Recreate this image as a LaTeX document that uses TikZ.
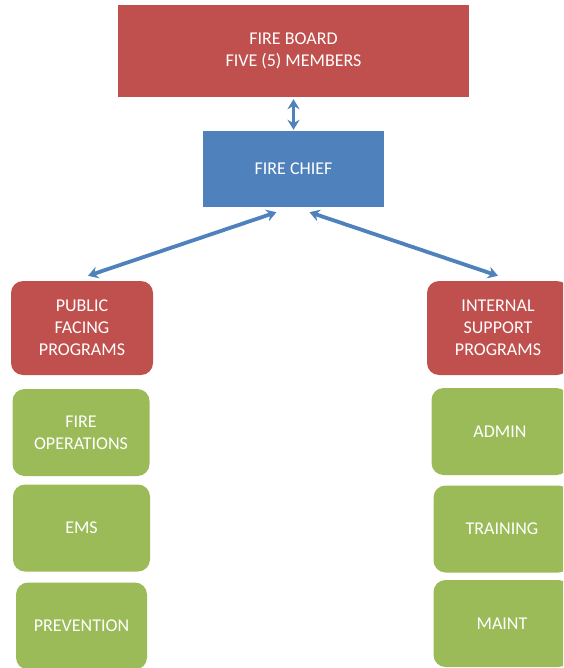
\documentclass[tikz,border=0pt]{standalone}
\usepackage{fontspec}
\setmainfont{Carlito}
\usepackage{xcolor}
\usetikzlibrary{shapes,arrows.meta,positioning,calc}

\definecolor{boardred}{HTML}{C0504D}
\definecolor{chiefblue}{HTML}{4F81BD}
\definecolor{progreen}{HTML}{9BBB59}

\begin{document}
\begin{tikzpicture}[x=1pt, y=-1pt,
    box/.style={rectangle, text=white, inner sep=0pt, align=center,
      font=\fontsize{18}{22}\selectfont},
    redbox/.style={box, fill=boardred, rounded corners=12pt, minimum width=142pt, minimum height=94pt},
    greenbox/.style={box, fill=progreen, rounded corners=12pt, minimum width=137pt, minimum height=87pt},
    arrow/.style={{Stealth[length=10pt,width=12pt]}-{Stealth[length=10pt,width=12pt]}, line width=3.8pt, draw=chiefblue}]

    \useasboundingbox (0,0) rectangle (563,668);
    \clip (0,0) rectangle (563,668);

    \node[box, fill=boardred, minimum width=351pt, minimum height=92pt] (board) at (293.5,51) {FIRE BOARD\\FIVE (5) MEMBERS};
    \node[box, fill=chiefblue, minimum width=181pt, minimum height=76pt] (chief) at (293.5,169) {FIRE CHIEF};

    \node[redbox] (public) at (82,328) {PUBLIC\\FACING\\PROGRAMS};
    \node[redbox] (internal) at (498,328) {INTERNAL\\SUPPORT\\PROGRAMS};

    \node[greenbox] (fireops) at (81,432.5) {FIRE\\OPERATIONS};
    \node[greenbox] (ems) at (81.5,528) {EMS};
    \node[greenbox, minimum width=131pt] (prev) at (81.5,626) {PREVENTION};

    \node[greenbox] (admin) at (500,431.5) {ADMIN};
    \node[greenbox] (training) at (502,529) {TRAINING};
    \node[greenbox] (maint) at (502,623.5) {MAINT};

    \draw[arrow] ([yshift=-2pt]board.south) -- ([yshift=1pt]chief.north);
    \draw[arrow] ([xshift=-17pt,yshift=-5pt]chief.south) -- ([xshift=6pt,yshift=5pt]public.north);
    \draw[arrow] ([xshift=16pt,yshift=-5pt]chief.south) -- ([xshift=0pt,yshift=5pt]internal.north);
\end{tikzpicture}
\end{document}
